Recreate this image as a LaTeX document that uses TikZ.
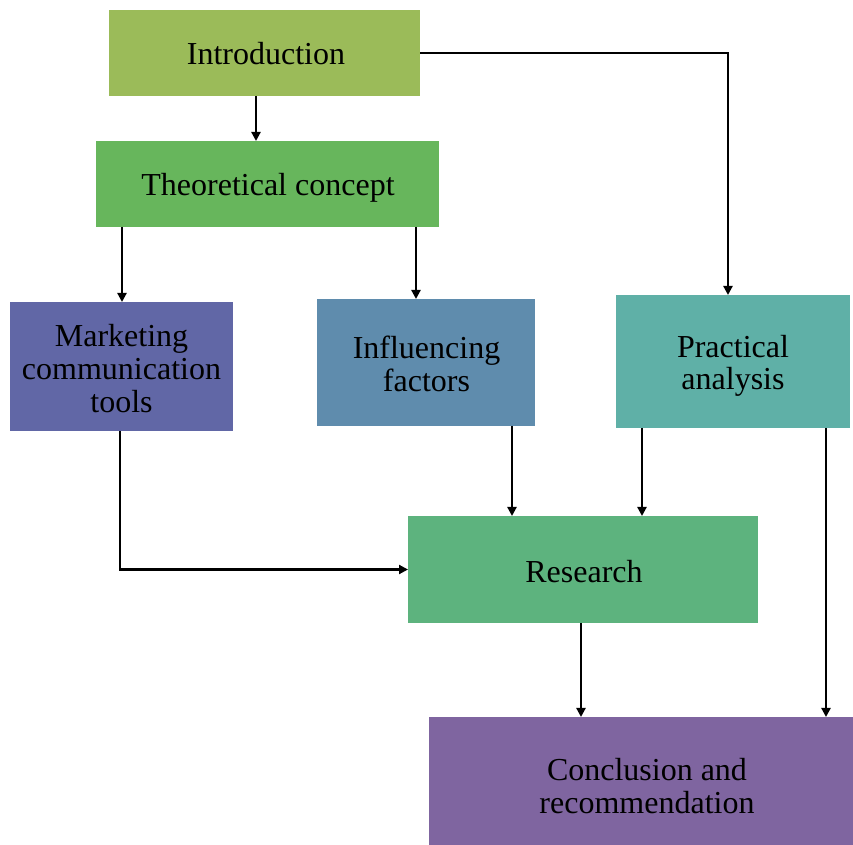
\documentclass[tikz,border=0pt]{standalone}
\usepackage{fontspec}
\setmainfont{Liberation Serif}
\usetikzlibrary{arrows.meta}
\definecolor{cIntro}{HTML}{9BBB59}
\definecolor{cTheory}{HTML}{67B65C}
\definecolor{cTools}{HTML}{6167A6}
\definecolor{cFactors}{HTML}{5F8CAD}
\definecolor{cPractical}{HTML}{5FB0A7}
\definecolor{cResearch}{HTML}{5DB37E}
\definecolor{cConclusion}{HTML}{7F65A0}
\begin{document}
\begin{tikzpicture}[x=0.5pt,y=-0.5pt,
  box/.style={rectangle, inner sep=0pt, outer sep=0pt},
  lbl/.style={inner sep=0pt, align=center,
    font=\fontsize{16}{16.3}\selectfont},
  arr/.style={draw=black, line width=1.1pt, -{Triangle[length=4.5pt,width=4.5pt]}}]
\useasboundingbox (0,0) rectangle (853,845);

% boxes
\node[box, fill=cIntro, minimum width=155.5pt, minimum height=43pt]
  (intro) at (264.5,53) {};
\node[box, fill=cTheory, minimum width=171.5pt, minimum height=43pt]
  (theory) at (267.5,184) {};
\node[box, fill=cTools, minimum width=111.5pt, minimum height=64.5pt]
  (tools) at (121.5,366.5) {};
\node[box, fill=cFactors, minimum width=109pt, minimum height=63.5pt]
  (factors) at (426,362.5) {};
\node[box, fill=cPractical, minimum width=117pt, minimum height=66.5pt]
  (practical) at (733,361.5) {};
\node[box, fill=cResearch, minimum width=175pt, minimum height=53.5pt]
  (research) at (583,569.5) {};
\node[box, fill=cConclusion, minimum width=218pt, minimum height=68pt]
  (conclusion) at (647,785) {};

% box texts
\node[lbl] (introText)      at (266,54)    {Introduction};
\node[lbl] (theoryText)     at (268,188)   {Theoretical concept};
\node[lbl] (toolsText)      at (121.5,368.5) {Marketing\\communication\\tools};
\node[lbl] (factorsText)    at (426.5,364) {Influencing\\factors};
\node[lbl] (practicalText)  at (733,366)   {Practical\\analysis};
\node[lbl] (researchText)   at (584,571.5) {Research};
\node[lbl] (conclusionText) at (647,786)   {Conclusion and\\recommendation};

% connectors
\draw[arr] (256,0 |- intro.south) -- (256,0 |- theory.north);
\draw[arr] (intro.east) -| (728,0 |- practical.north);
\draw[arr] (122,0 |- theory.south) -- (122,0 |- tools.north);
\draw[arr] (416,0 |- theory.south) -- (416,0 |- factors.north);
\draw[arr] (120,0 |- tools.south) |- (research.west);
\draw[arr] (512,0 |- factors.south) -- (512,0 |- research.north);
\draw[arr] (642,0 |- practical.south) -- (642,0 |- research.north);
\draw[arr] (826,0 |- practical.south) -- (826,0 |- conclusion.north);
\draw[arr] (581,0 |- research.south) -- (581,0 |- conclusion.north);
\end{tikzpicture}
\end{document}
